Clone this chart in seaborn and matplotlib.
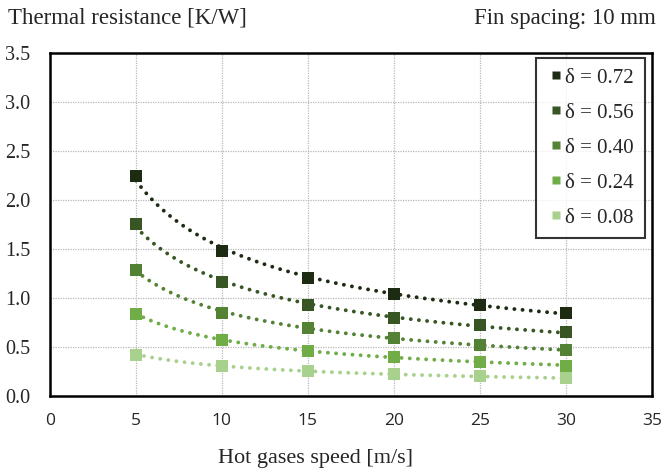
import numpy as np
import pandas as pd
import matplotlib
matplotlib.use("Agg")
import matplotlib.pyplot as plt
import seaborn as sns

# Data
speed = [5, 10, 15, 20, 25, 30]
r_072 = [2.24, 1.48, 1.20, 1.04, 0.93, 0.85]
r_056 = [1.75, 1.16, 0.93, 0.80, 0.72, 0.65]
r_040 = [1.29, 0.85, 0.69, 0.59, 0.52, 0.47]
r_024 = [0.84, 0.57, 0.46, 0.40, 0.35, 0.31]
r_008 = [0.42, 0.31, 0.26, 0.22, 0.20, 0.18]
labels = ["δ = 0.72", "δ = 0.56", "δ = 0.40", "δ = 0.24", "δ = 0.08"]
colors = ["#1c2b12", "#375623", "#548235", "#70ad47", "#a9d18e"]

series = [r_072, r_056, r_040, r_024, r_008]
df = pd.concat(
    [pd.DataFrame({"speed": speed, "R": vals, "case": lab}) for vals, lab in zip(series, labels)],
    ignore_index=True,
)

sns.set_style("white")
plt.rcParams["font.family"] = ["Liberation Serif", "DejaVu Serif"]

fig = plt.figure(figsize=(6.62, 4.76), dpi=100)
ax = fig.add_axes([0.0755, 0.168, 0.909, 0.721])

# power-law trendlines (Excel style)
xs = np.linspace(5, 30, 200)
for vals, col in zip(series, colors):
    b, a = np.polyfit(np.log(speed), np.log(vals), 1)
    ax.plot(xs, np.exp(a) * xs ** b, linestyle=(0, (0.01, 2.1)), color=col, lw=2.8,
            dash_capstyle="round", zorder=2)

sns.scatterplot(data=df, x="speed", y="R", hue="case", palette=colors, marker="s",
                s=75, edgecolor="none", ax=ax, zorder=3, legend=True)

ax.set_xlim(0, 35)
ax.set_ylim(0, 3.5)
ax.set_xticks(range(0, 36, 5))
ax.set_yticks(np.arange(0, 3.51, 0.5))
ax.set_yticklabels([f"{v:.1f}" for v in np.arange(0, 3.51, 0.5)], fontsize=14.5,
                   family=["Liberation Serif"])
ax.set_xticklabels([str(v) for v in range(0, 36, 5)], fontsize=12.5,
                   family=["Open Sans", "DejaVu Sans"])
ax.tick_params(axis="both", length=0)
ax.tick_params(axis="y", pad=14)
ax.tick_params(axis="x", pad=12)
ax.grid(True, color="#b8b8b8", linestyle=(0, (1, 1)), lw=0.9)
for sp in ax.spines.values():
    sp.set_color("black")
    sp.set_linewidth(1.8)

ax.set_xlabel("")
ax.set_ylabel("")
fig.text(315 / 662, 1 - 458 / 476, "Hot gases speed [m/s]", fontsize=16, ha="center", va="center")

fig.text(0.012, 0.962, "Thermal resistance [K/W]", fontsize=16.5, ha="left", va="center")
fig.text(0.99, 0.962, "Fin spacing: 10 mm", fontsize=16.5, ha="right", va="center")

handles, labs = ax.get_legend_handles_labels()
leg = ax.legend(handles, labs, loc="upper right", bbox_to_anchor=(0.988, 0.986),
                borderaxespad=0, fontsize=15, frameon=True, fancybox=False,
                edgecolor="black", handletextpad=0.0, handlelength=0.9,
                labelspacing=0.74, borderpad=0.5, markerscale=0.6)
leg.get_frame().set_linewidth(1.5)

fig.savefig("out.png", dpi=100)
